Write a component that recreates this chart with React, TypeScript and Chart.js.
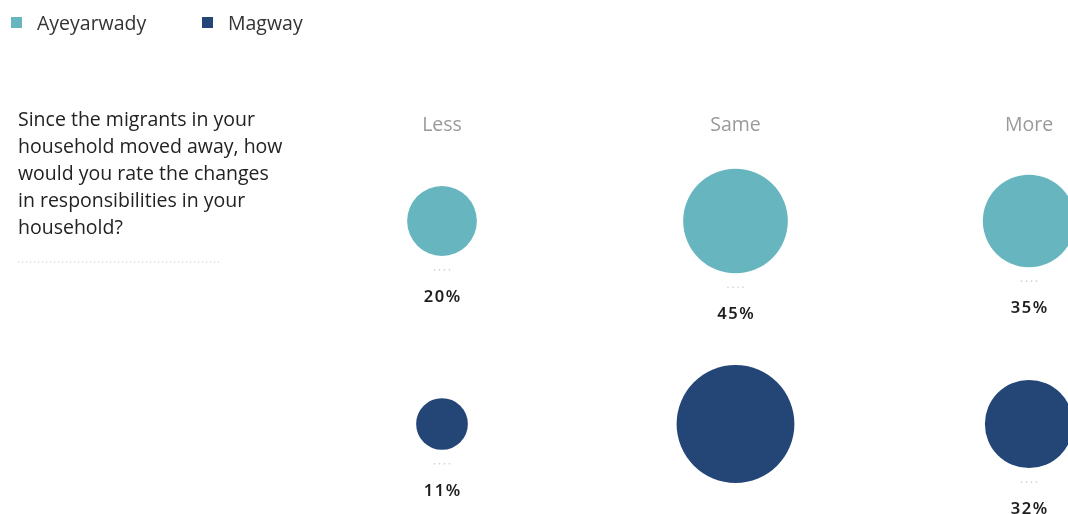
import React, { useEffect, useRef } from "react";
import { Chart, registerables } from "chart.js";

Chart.register(...registerables);

const categories = ["Less", "Same", "More"];
const regions = ["Ayeyarwady", "Magway"];
const ayeyarwadyValues = [20, 45, 35];
const magwayValues = [11, 57, 32];
const colors = ["#67b6bf", "#244677"];
const question = [
  "Since the migrants in your",
  "household moved away, how",
  "would you rate the changes",
  "in responsibilities in your",
  "household?",
];

const W = 1068;
const H = 514;
const RADIUS_SCALE = 7.8;

function toPoints(values: number[], row: number) {
  return values.map((v, i) => ({ x: i, y: row, r: RADIUS_SCALE * Math.sqrt(v), v }));
}

const overlayPlugin = {
  id: "overlay",
  afterDraw(chart: any) {
    const ctx = chart.ctx as CanvasRenderingContext2D;
    ctx.save();
    // legend
    ctx.textBaseline = "middle";
    ctx.textAlign = "left";
    ctx.font = "19.5px 'Open Sans'";
    const legendX = [11, 202];
    chart.data.datasets.forEach((ds: any, i: number) => {
      ctx.fillStyle = ds.backgroundColor;
      ctx.fillRect(legendX[i], 17, 11, 11);
      ctx.fillStyle = "#333";
      ctx.fillText(ds.label, legendX[i] + 26, 24);
    });
    // question
    ctx.fillStyle = "#222";
    ctx.font = "19.5px 'Open Sans'";
    question.forEach((line, i) => {
      ctx.fillText(line, 18, 120 + i * 27);
    });
    // dotted rule under question
    ctx.fillStyle = "#cfcfcf";
    for (let x = 18; x <= 220; x += 4) {
      ctx.fillRect(x, 261.5, 1.2, 1.2);
    }
    // column headers
    const xScale = chart.scales.x;
    ctx.textAlign = "center";
    ctx.fillStyle = "#9a9a9a";
    ctx.font = "19.5px 'Open Sans'";
    categories.forEach((c, i) => {
      ctx.fillText(c, xScale.getPixelForValue(i), 125);
    });
    // value labels
    chart.data.datasets.forEach((ds: any, di: number) => {
      const meta = chart.getDatasetMeta(di);
      meta.data.forEach((el: any, i: number) => {
        const r = ds.data[i].r;
        const bottom = el.y + r;
        if (bottom + 41 > chart.height + 4) return;
        ctx.fillStyle = "#cccccc";
        for (let k = 0; k < 4; k++) {
          ctx.beginPath();
          ctx.arc(el.x - 7.5 + k * 5, bottom + 14, 0.8, 0, Math.PI * 2);
          ctx.fill();
        }
        ctx.fillStyle = "#1e1e1e";
        ctx.font = "600 16.5px 'Noto Sans'";
        (ctx as any).letterSpacing = "1.5px";
        ctx.fillText(ds.data[i].v + "%", el.x + 0.75, bottom + 41);
        (ctx as any).letterSpacing = "0px";
      });
    });
    ctx.restore();
  },
};

export default function App() {
  const ref = useRef<HTMLCanvasElement>(null);
  useEffect(() => {
    if (!ref.current) return;
    const chart = new Chart(ref.current, {
      type: "bubble",
      data: {
        datasets: [
          {
            label: regions[0],
            data: toPoints(ayeyarwadyValues, 1),
            backgroundColor: colors[0],
            borderWidth: 0,
            clip: false,
          } as any,
          {
            label: regions[1],
            data: toPoints(magwayValues, 0),
            backgroundColor: colors[1],
            borderWidth: 0,
            clip: false,
          } as any,
        ],
      },
      options: {
        animation: false,
        responsive: false,
        maintainAspectRatio: false,
        layout: { autoPadding: false, padding: { left: 442, right: 39, top: 221, bottom: 90 } },
        scales: {
          x: { type: "linear", min: 0, max: 2, display: false },
          y: { type: "linear", min: 0, max: 1, display: false },
        },
        plugins: {
          legend: { display: false },
          tooltip: { enabled: false },
        },
        events: [],
      } as any,
      plugins: [overlayPlugin],
    });
    return () => chart.destroy();
  }, []);
  return (
    <div style={{ position: "fixed", left: 0, top: 0, width: W, height: H, background: "#fff" }}>
      <canvas ref={ref} width={W} height={H} style={{ width: W, height: H, display: "block" }} />
    </div>
  );
}
